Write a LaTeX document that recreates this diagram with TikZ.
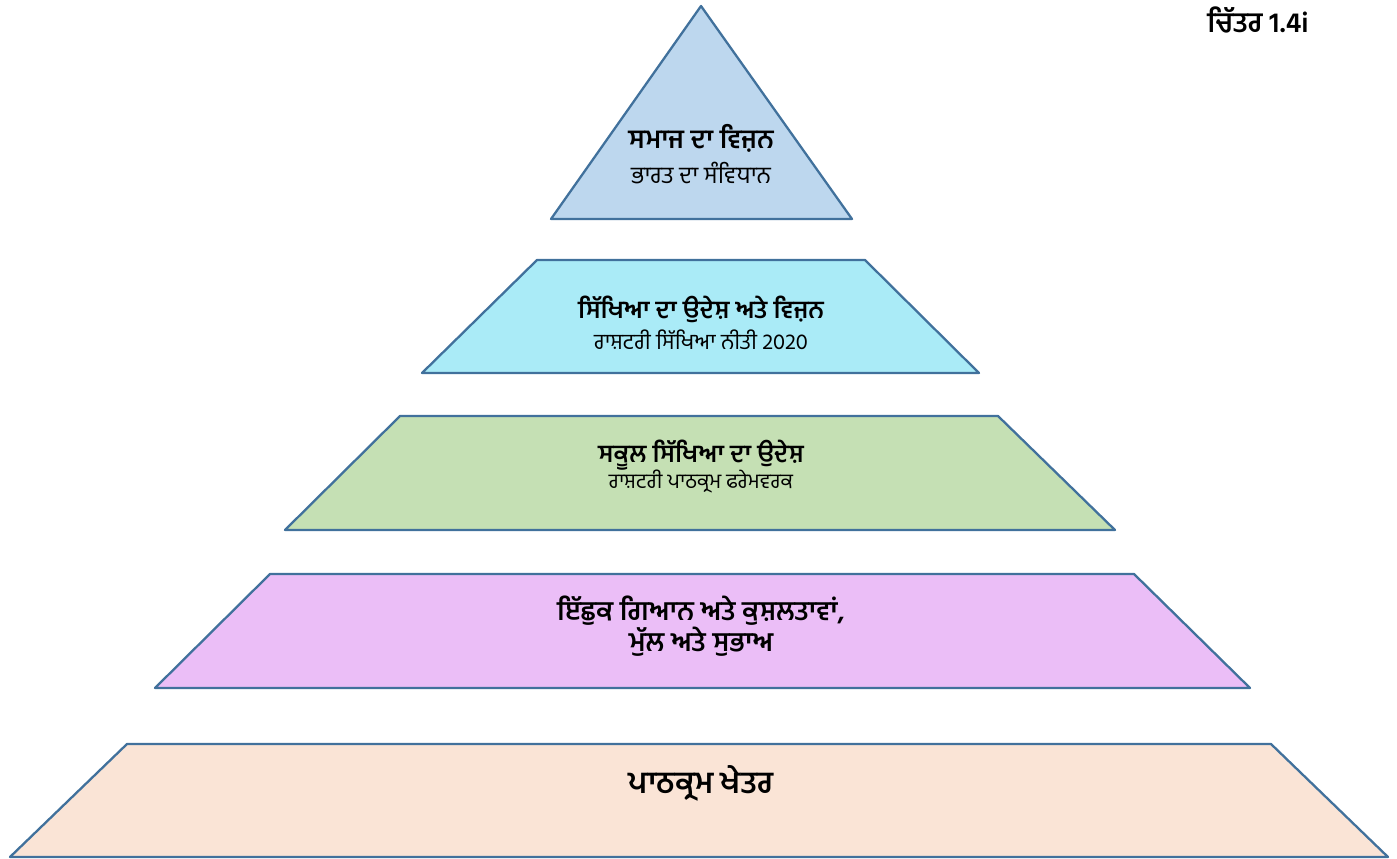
\documentclass[tikz,border=0pt]{standalone}
\usepackage{fontspec}
\newfontfamily\gurmukhi[Script=Gurmukhi]{Hind Jalandhar}
\definecolor{edgeblue}{HTML}{41719C}
\definecolor{visionfill}{HTML}{BDD7EE}
\definecolor{aimfill}{HTML}{AAEBF7}
\definecolor{schoolfill}{HTML}{C5E0B4}
\definecolor{skillfill}{HTML}{EBBEF7}
\definecolor{areafill}{HTML}{FAE4D6}
\tikzset{
  level/.style={draw=edgeblue, line width=1.3pt, line join=round},
  headtext/.style={font=\gurmukhi\bfseries\fontsize{#1}{16}\selectfont, align=center},
  headtext/.default=14,
  subtext/.style={font=\gurmukhi\fontsize{#1}{14}\selectfont, align=center},
  subtext/.default=12
}
\begin{document}
\begin{tikzpicture}[x=0.02cm, y=-0.02cm]
  \useasboundingbox (0,0) rectangle (1397,859);
  \filldraw [level, fill=visionfill] (701,6) -- (852,219) -- (551,219) -- cycle;
  \filldraw [level, fill=aimfill] (537,260) -- (865,260) -- (979,373) -- (422,373) -- cycle;
  \filldraw [level, fill=schoolfill] (400,416) -- (998,416) -- (1115,530) -- (285,530) -- cycle;
  \filldraw [level, fill=skillfill] (270,574) -- (1134,574) -- (1250,688) -- (155,688) -- cycle;
  \filldraw [level, fill=areafill] (127,744) -- (1271,744) -- (1388,857) -- (10,857) -- cycle;
  \node [headtext=15] (society) at (701,138) {ਸਮਾਜ ਦਾ ਵਿਜ਼ਨ};
  \node [subtext=13.5] (constitution) at (701,173) {ਭਾਰਤ ਦਾ ਸੰਵਿਧਾਨ};
  \node [headtext=14] (eduaim) at (701,309) {ਸਿੱਖਿਆ ਦਾ ਉਦੇਸ਼ ਅਤੇ ਵਿਜ਼ਨ};
  \node [subtext=12.5] (nep) at (701,340) {ਰਾਸ਼ਟਰੀ ਸਿੱਖਿਆ ਨੀਤੀ 2020};
  \node [headtext=14] (schoolaim) at (701,455) {ਸਕੂਲ ਸਿੱਖਿਆ ਦਾ ਉਦੇਸ਼};
  \node [subtext=11.8] (ncf) at (701,482) {ਰਾਸ਼ਟਰੀ ਪਾਠਕ੍ਰਮ ਫਰੇਮਵਰਕ};
  \node [headtext=15.3] (skills) at (701,626) {ਇੱਛੁਕ ਗਿਆਨ ਅਤੇ ਕੁਸ਼ਲਤਾਵਾਂ,\\ਮੁੱਲ ਅਤੇ ਸੁਭਾਅ};
  \node [headtext=17.5] (areas) at (701,783) {ਪਾਠਕ੍ਰਮ ਖੇਤਰ};
  \node [headtext=16] (figno) at (1258,20) {ਚਿੱਤਰ 1.4i};
\end{tikzpicture}
\end{document}
